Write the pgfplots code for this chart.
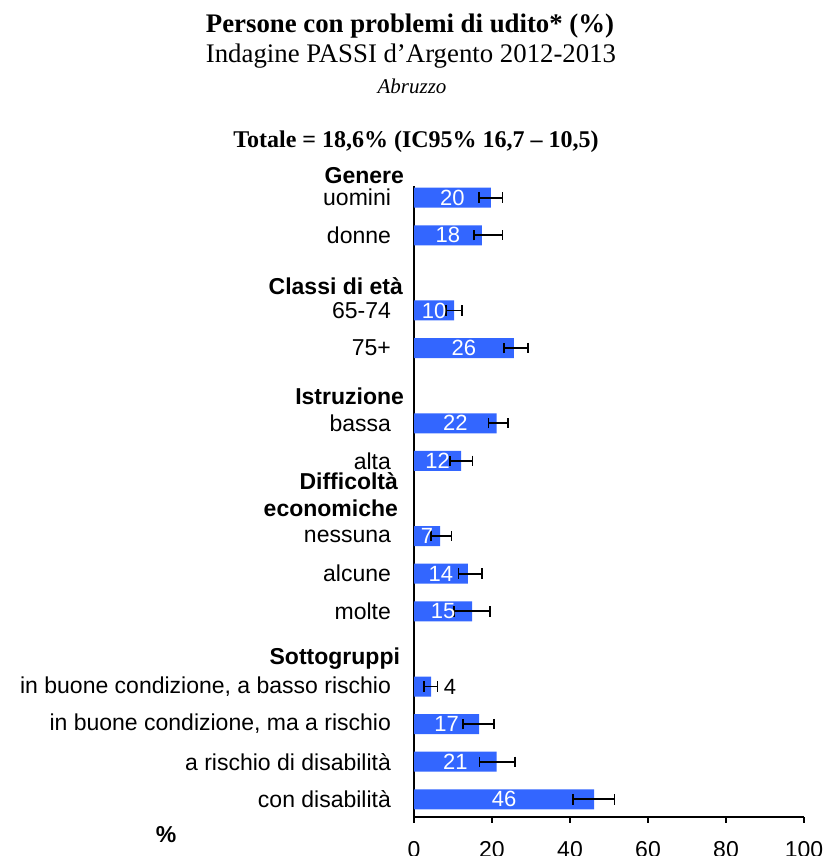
\documentclass[border=0pt]{standalone}
\usepackage{pgfplots}
\pgfplotsset{compat=1.18}
\usepackage{pgfplotstable}
\usepackage{fontspec}
\setmainfont{Liberation Serif}
\newfontfamily\arial{Liberation Sans}
\definecolor{barblue}{HTML}{3366FF}
\newcommand\lab{\arial\fontsize{11.5}{13.5}\selectfont}
\newcommand\blab{\arial\fontsize{11}{13}\selectfont}

\pgfplotstableread{
y v lo hi lab
0 19.7 16.7 22.7 20
-1 17.4 15.4 22.7 18
-3 10.3 8.2 12.3 10
-4 25.6 23.1 29.2 26
-6 21.2 19.1 24.0 22
-7 12.1 9.2 15.0 12
-9 6.7 4.4 9.6 7
-10 13.8 11.4 17.4 14
-11 14.9 10.3 19.5 15
-13 4.4 2.6 6.0 4
-14 16.7 12.6 20.6 17
-15 21.2 16.8 25.9 21
-16 46.2 40.8 51.4 46
}\data

\pgfplotstableread{
y v lab
0 19.7 20
-1 17.4 18
-3 10.3 10
-4 25.6 26
-6 21.2 22
-7 12.1 12
-9 6.7 7
-10 13.8 14
-11 14.9 15
-14 16.7 17
-15 21.2 21
-16 46.2 46
}\datalab

\begin{document}
\begin{tikzpicture}
\path[use as bounding box] (0,0) rectangle (412pt,428pt);
\node[anchor=base, font=\fontsize{13.4}{15}\selectfont\bfseries] at (205pt,411.5pt) {Persone con problemi di udito* (\%)};
\node[anchor=base, font=\fontsize{13.4}{15}\selectfont] at (205.5pt,396.5pt) {Indagine PASSI d’Argento 2012-2013};
\node[font=\fontsize{10.5}{12}\selectfont\itshape] at (206pt,385pt) {Abruzzo};
\node[anchor=base, font=\fontsize{12}{14}\selectfont\bfseries] at (208pt,354pt) {Totale = 18,6\% (IC95\% 16,7 – 10,5)};
\node[font=\lab\bfseries] at (83pt,10.5pt) {\%};
\begin{axis}[
  at={(207pt,19.5pt)}, anchor=south west, scale only axis,
  width=195pt, height=315.5pt,
  xmin=0, xmax=100, ymin=-16.47, ymax=0.31,
  axis x line=bottom, axis y line=left,
  axis line style={-, black, line width=0.6pt},
  xtick={0,20,...,100}, tick align=outside, major tick length=3pt,
  x tick style={black, line width=0.6pt},
  ytick={0,-1,-3,-4,-6,-7,-9,-10,-11,-13,-14,-15,-16},
  yticklabels={uomini, donne, 65-74, 75+, bassa, alta, nessuna, alcune, molte,
    {in buone condizione, a basso rischio}, {in buone condizione, ma a rischio},
    a rischio di disabilità, con disabilità},
  y tick style={draw=none},
  yticklabel style={font=\lab, xshift=-5pt},
  xticklabel style={font=\lab, yshift=-5.5pt},
  /pgf/number format/assume math mode=true,
  clip=false,
]
\addplot[xbar, bar width=10pt, bar shift=0pt, fill=barblue, draw=none,
  error bars/.cd, x dir=both, x explicit, error mark=|,
  error bar style={line width=0.9pt, black},
  error mark options={line width=0.9pt, mark size=2.6pt, black}]
  table[x=v, y=y, x error plus expr=\thisrow{hi}-\thisrow{v}, x error minus expr=\thisrow{v}-\thisrow{lo}] {\data};
\addplot[draw=none, mark=none, nodes near coords, point meta=explicit symbolic,
  nodes near coords style={anchor=center, white, font=\blab}]
  table[x expr=\thisrow{v}/2, y=y, meta=lab] {\datalab};
\addplot[draw=none, mark=none, nodes near coords, point meta=explicit symbolic,
  nodes near coords style={anchor=west, black, font=\blab, inner sep=0pt, xshift=3pt}]
  coordinates {(6.0,-13) [4]};
\node[anchor=east, font=\lab\bfseries, xshift=-1.5pt] at (axis cs:0,0.6) {Genere};
\node[anchor=east, font=\lab\bfseries, xshift=-2pt] at (axis cs:0,-2.35) {Classi di età};
\node[anchor=east, font=\lab\bfseries, xshift=-1.5pt] at (axis cs:0,-5.28) {Istruzione};
\node[anchor=east, align=right, font=\lab\bfseries, xshift=-4.5pt] at (axis cs:0,-7.9) {Difficoltà\\economiche};
\node[anchor=east, font=\lab\bfseries, xshift=-3.5pt] at (axis cs:0,-12.27) {Sottogruppi};
\end{axis}
\end{tikzpicture}
\end{document}
